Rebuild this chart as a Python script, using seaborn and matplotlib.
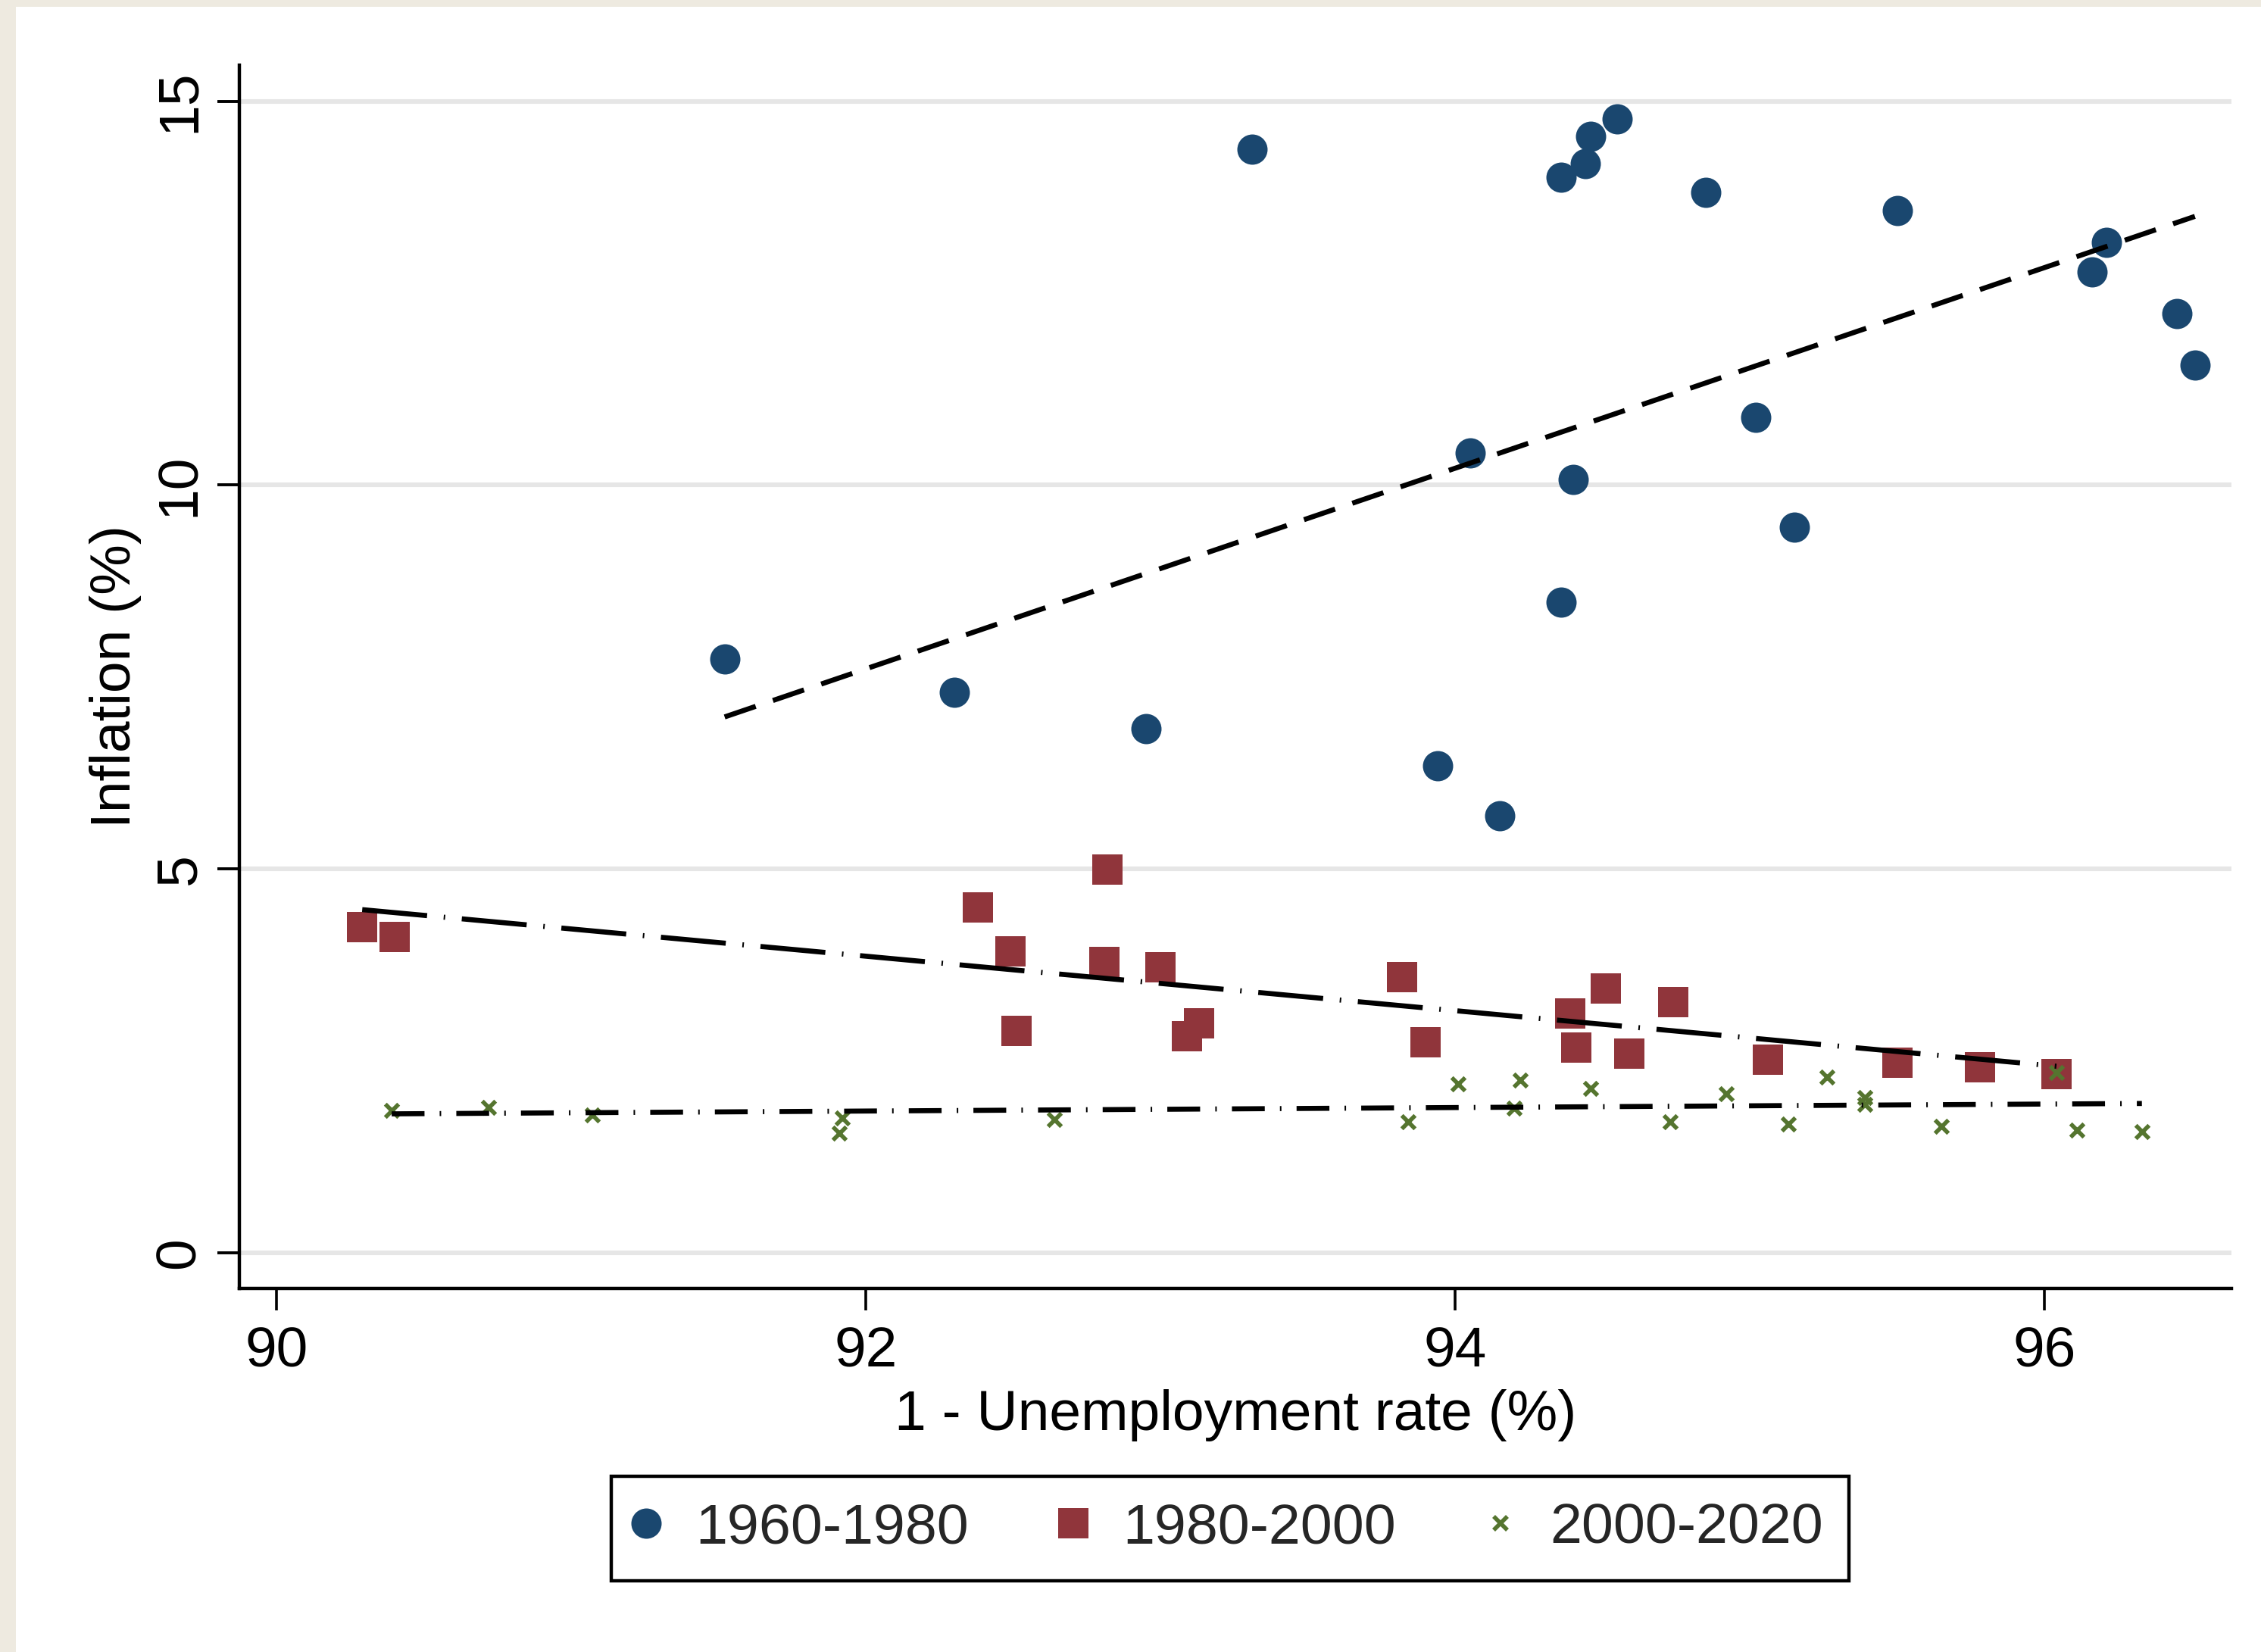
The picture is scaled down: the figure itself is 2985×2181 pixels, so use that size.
import matplotlib
matplotlib.use("Agg")
import matplotlib.pyplot as plt
from matplotlib.lines import Line2D
from matplotlib.patches import Rectangle
import seaborn as sns

# ---------------- data ----------------
labels = ["1960-1980", "1980-2000", "2000-2020"]

x_1960 = [91.52, 92.30, 92.95, 93.31, 93.94, 94.05, 94.15, 94.36, 94.36, 94.40, 94.44,
          94.46, 94.55, 94.85, 95.02, 95.15, 95.50, 96.16, 96.21, 96.45, 96.51]
y_1960 = [7.73, 7.30, 6.83, 14.37, 6.34, 10.42, 5.69, 14.01, 8.47, 10.07, 14.19,
          14.54, 14.77, 13.81, 10.88, 9.45, 13.58, 12.78, 13.16, 12.23, 11.56]

x_1980 = [90.29, 90.40, 92.38, 92.49, 92.51, 92.82, 92.81, 93.00, 93.09, 93.13, 93.82,
          93.90, 94.39, 94.41, 94.51, 94.59, 94.74, 95.06, 95.50, 95.78, 96.04]
y_1980 = [4.24, 4.11, 4.50, 3.93, 2.89, 4.99, 3.79, 3.72, 2.82, 2.99, 3.59,
          2.74, 3.12, 2.67, 3.44, 2.59, 3.27, 2.52, 2.48, 2.42, 2.33]

x_2000 = [90.39, 90.72, 91.07, 91.92, 91.91, 92.64, 93.84, 94.01, 94.20, 94.22, 94.46,
          94.73, 94.92, 95.13, 95.26, 95.39, 95.39, 95.65, 96.04, 96.11, 96.33]
y_2000 = [1.85, 1.89, 1.80, 1.76, 1.56, 1.74, 1.71, 2.20, 1.88, 2.25, 2.14,
          1.71, 2.07, 1.68, 2.29, 2.02, 1.93, 1.65, 2.35, 1.60, 1.58]

# fitted lines (end points)
fit_1960_x = [91.52, 96.51]
fit_1960_y = [6.98, 13.50]
fit_1980_x = [90.29, 96.04]
fit_1980_y = [4.47, 2.43]
fit_2000_x = [90.39, 96.33]
fit_2000_y = [1.81, 1.945]

x_ticks = [90, 92, 94, 96]
y_ticks = [0, 5, 10, 15]
x_label = "1 - Unemployment rate (%)"
y_label = "Inflation (%)"

# ---------------- style ----------------
NAVY = "#1a476f"
MAROON = "#90353b"
GREEN = "#55752f"
BEIGE = "#eeeae0"
GRID = "#e6e6e6"

sns.set_theme(style="white")
plt.rcParams["font.family"] = ["Liberation Sans", "DejaVu Sans"]
FS = 27
LEG_FS = 27.15

fig = plt.figure(figsize=(2985 / 200, 2181 / 200), dpi=200, facecolor="white")
fig.patches.append(Rectangle((0, 0), 21 / 2985, 1, transform=fig.transFigure,
                             facecolor=BEIGE, edgecolor="none", zorder=-10))
fig.patches.append(Rectangle((0, 1 - 9 / 2181), 1, 9 / 2181, transform=fig.transFigure,
                             facecolor=BEIGE, edgecolor="none", zorder=-10))

ax = fig.add_axes([316 / 2985, 1 - 1701 / 2181, (2946 - 316) / 2985, (1701 - 86) / 2181])
ax.set_facecolor("white")

# scatter series
sns.scatterplot(x=x_1960, y=y_1960, ax=ax, color=NAVY, marker="o", s=207,
                linewidth=0, zorder=3, legend=False)
sns.scatterplot(x=x_1980, y=y_1980, ax=ax, color=MAROON, marker="s", s=207,
                linewidth=0, zorder=3, legend=False)
sns.scatterplot(x=x_2000, y=y_2000, ax=ax, color=GREEN, marker="x", s=40,
                linewidth=2.0, zorder=3.5, legend=False)

# fitted lines
LW = 2.4
sns.lineplot(x=fit_1960_x, y=fit_1960_y, ax=ax, color="black", linewidth=LW,
             linestyle=(0, (6.5, 3.6)), estimator=None, sort=False, zorder=4)
sns.lineplot(x=fit_1980_x, y=fit_1980_y, ax=ax, color="black", linewidth=LW,
             linestyle=(0, (12.9, 3.3, 0.3, 3.3)), estimator=None, sort=False, zorder=4)
sns.lineplot(x=fit_2000_x, y=fit_2000_y, ax=ax, color="black", linewidth=LW,
             linestyle=(0, (6.5, 3.0, 0.3, 3.0)), estimator=None, sort=False, zorder=4)

# axes
ax.set_xlim(89.873, 96.634)
ax.set_ylim(-0.464, 15.47)
ax.set_xticks(x_ticks)
ax.set_yticks(y_ticks)
ax.set_xticklabels([str(t) for t in x_ticks])
ax.set_yticklabels([str(t) for t in y_ticks])
ax.yaxis.grid(True, color=GRID, linewidth=2.2, zorder=0)
ax.xaxis.grid(False)
ax.set_axisbelow(True)

for side in ["top", "right"]:
    ax.spines[side].set_visible(False)
for side in ["left", "bottom"]:
    ax.spines[side].set_visible(True)
    ax.spines[side].set_color("black")
    ax.spines[side].set_linewidth(1.6)

ax.tick_params(axis="x", which="major", direction="out", length=10.5, width=1.3,
               color="black", pad=7.2, labelsize=FS, labelcolor="black", bottom=True)
ax.tick_params(axis="y", which="major", direction="out", length=10.5, width=1.4,
               color="black", pad=5.3, labelsize=FS, labelcolor="black", left=True,
               labelrotation=90)
plt.setp(ax.get_yticklabels(), va="center")

ax.set_xlabel(x_label, fontsize=FS, color="black")
ax.set_ylabel(y_label, fontsize=FS, color="black")
ax.xaxis.set_label_coords(0.5, -0.0824)
ax.yaxis.set_label_coords(-0.0489, 0.5)

# legend
handles = [
    Line2D([], [], linestyle="none", marker="o", markersize=14.4, color=NAVY,
           markeredgewidth=0),
    Line2D([], [], linestyle="none", marker="s", markersize=14.4, color=MAROON,
           markeredgewidth=0),
    Line2D([], [], linestyle="none", marker="x", markersize=6.3, color=GREEN,
           markeredgewidth=2.0),
]
leg = fig.legend(handles, labels, loc="center", bbox_to_anchor=(0.5441, 0.0747),
                 ncol=3, frameon=True, fancybox=False, shadow=False, framealpha=1,
                 edgecolor="black", fontsize=LEG_FS, borderpad=0.46, handlelength=0.31,
                 handletextpad=0.71, columnspacing=1.67, numpoints=1,
                 borderaxespad=0)
leg.get_frame().set_linewidth(1.6)
leg.get_frame().set_facecolor("white")

fig.savefig("out.png", dpi=200, facecolor="white")
